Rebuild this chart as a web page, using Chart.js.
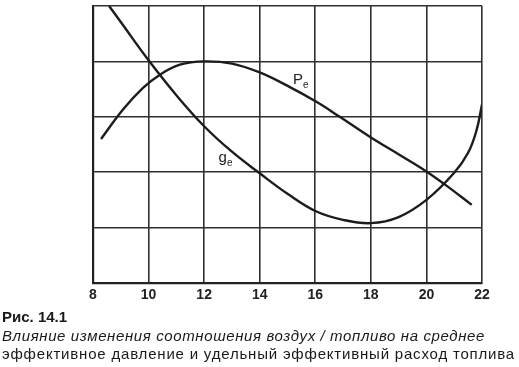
<!DOCTYPE html>
<html>
<head>
<meta charset="utf-8">
<script src="https://cdn.jsdelivr.net/npm/chart.js@4/dist/chart.umd.min.js"></script>
<style>
  html, body { margin: 0; padding: 0; background: #fff; }
  #wrap { position: relative; width: 519px; height: 367px; overflow: hidden; }
  #c { position: absolute; left: 0; top: 0; }
  .cap { position: absolute; left: 2px; font-family: "Liberation Sans", Arial, sans-serif; color: #1a1a1a; white-space: nowrap; font-size: 15px; line-height: 18px; }
  #cap1 { top: 308px; font-weight: bold; }
  #cap2 { top: 327px; font-style: italic; }
  #cap3 { top: 345px; }
</style>
</head>
<body>
<div id="wrap">
  <canvas id="c" width="519" height="367"></canvas>
  <div class="cap" id="cap1">Рис. 14.1</div>
  <div class="cap" id="cap2" data-w="483">Влияние изменения соотношения воздух / топливо на среднее</div>
  <div class="cap" id="cap3" data-w="513">эффективное давление и удельный эффективный расход топлива</div>
</div>
<script>
// Air / fuel ratio ticks
const xTicks = [8, 10, 12, 14, 16, 18, 20, 22];

// g_e: specific effective fuel consumption (relative units)
const geRatio = [8.58, 9, 10, 11, 12, 13, 14, 15, 16, 17, 18, 19, 20, 21, 21.5, 21.8, 22.0];
const geValue = [5.0, 4.71, 4.02, 3.39, 2.83, 2.37, 1.98, 1.61, 1.30, 1.14, 1.08, 1.19, 1.50, 1.99, 2.35, 2.75, 3.22];

// P_e: mean effective pressure (relative units)
const peRatio = [8.29, 9.08, 9.80, 10.41, 11.13, 12.0, 13.0, 14.0, 15.07, 16.04, 16.88, 17.96, 19.04, 20.01, 20.66, 21.63];
const peValue = [2.60, 3.13, 3.52, 3.76, 3.94, 4.0, 3.96, 3.80, 3.54, 3.27, 3.0, 2.64, 2.31, 2.01, 1.78, 1.41];

const toPts = (xs, ys) => xs.map((x, i) => ({ x: x, y: ys[i] }));

const curveLabels = {
  id: 'curveLabels',
  afterDatasetsDraw(chart) {
    const { ctx, scales: { x, y } } = chart;
    ctx.save();
    ctx.fillStyle = '#222';
    ctx.textBaseline = 'alphabetic';
    const draw = (main, sub, dx, dy) => {
      const px = x.getPixelForValue(dx), py = y.getPixelForValue(dy);
      ctx.font = '15px "Liberation Sans", Arial, sans-serif';
      ctx.fillText(main, px, py);
      const w = ctx.measureText(main).width;
      ctx.font = '10px "Liberation Sans", Arial, sans-serif';
      ctx.fillText(sub, px + w, py + 4);
    };
    draw('P', 'e', 15.2, 3.6);
    draw('g', 'e', 12.52, 2.18);
    ctx.restore();
  }
};

new Chart(document.getElementById('c'), {
  type: 'line',
  data: {
    datasets: [
      { label: 'ge', data: toPts(geRatio, geValue), borderColor: '#1c1c1c', borderWidth: 2.4, pointRadius: 0, tension: 0.4, fill: false },
      { label: 'Pe', data: toPts(peRatio, peValue), borderColor: '#1c1c1c', borderWidth: 2.4, pointRadius: 0, tension: 0.4, fill: false }
    ]
  },
  options: {
    responsive: false,
    animation: false,
    devicePixelRatio: 1,
    layout: { padding: { top: 6, right: 37, left: 0, bottom: 0 } },
    plugins: { legend: { display: false }, tooltip: { enabled: false } },
    scales: {
      x: {
        type: 'linear', min: 8, max: 22,
        afterBuildTicks: s => { s.ticks = xTicks.map(v => ({ value: v })); },
        afterFit: s => { s.height = 84; },
        grid: { color: '#303030', lineWidth: 1.6, drawTicks: false },
        border: { color: '#222', width: 2.2 },
        ticks: { color: '#222', padding: 4, font: { family: '"Liberation Sans", Arial, sans-serif', size: 14, weight: 'bold' }, maxRotation: 0 }
      },
      y: {
        type: 'linear', min: 0, max: 5,
        afterFit: s => { s.width = 93; },
        grid: { color: '#303030', lineWidth: 1.6, drawTicks: false },
        border: { color: '#222', width: 2.2 },
        ticks: { display: false, stepSize: 1 }
      }
    }
  },
  plugins: [curveLabels]
});

// fit caption line widths
document.querySelectorAll('.cap[data-w]').forEach(el => {
  const target = +el.dataset.w;
  const w = el.getBoundingClientRect().width;
  const n = el.textContent.length;
  el.style.letterSpacing = ((target - w) / n).toFixed(3) + 'px';
});
</script>
</body>
</html>
